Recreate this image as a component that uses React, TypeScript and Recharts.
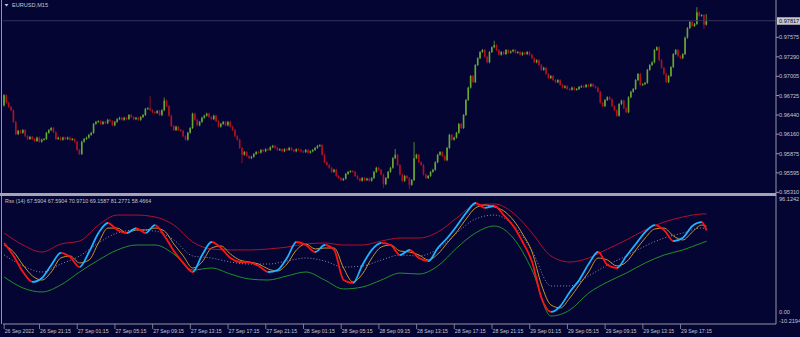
import { Bar, ComposedChart, Line, ReferenceLine, XAxis, YAxis } from "recharts";

// EURUSD M15 candles, 26 Sep 17:30 .. 29 Sep 20:00 (open of each bar = previous close)
const firstOpen = 0.9658;
const closes = [
  0.9673, 0.9662, 0.9656, 0.9651, 0.9634, 0.9616, 0.9621, 0.9618, 0.9622, 0.9613,
  0.9609, 0.9612, 0.9609, 0.9606, 0.9611, 0.9605, 0.9608, 0.9609, 0.9618, 0.9622,
  0.9625, 0.9619, 0.9609, 0.9611, 0.9608, 0.9611, 0.9609, 0.9611, 0.9608, 0.9609,
  0.9605, 0.9593, 0.9587, 0.9605, 0.9609, 0.9611, 0.9615, 0.9618, 0.9631, 0.9634,
  0.9635, 0.9631, 0.9634, 0.9632, 0.9637, 0.9635, 0.9629, 0.9634, 0.9638, 0.964,
  0.9637, 0.964, 0.9638, 0.9644, 0.9641, 0.9638, 0.964, 0.9637, 0.9641, 0.9644,
  0.9653, 0.9654, 0.9651, 0.9648, 0.9647, 0.965, 0.9644, 0.9651, 0.9665, 0.9657,
  0.9643, 0.9628, 0.9622, 0.9627, 0.9622, 0.9621, 0.9613, 0.9608, 0.9618, 0.9625,
  0.9646, 0.9637, 0.9629, 0.9634, 0.964, 0.9643, 0.9646, 0.9641, 0.9638, 0.9643,
  0.9635, 0.9627, 0.9631, 0.9634, 0.9629, 0.9634, 0.9627, 0.9622, 0.9613, 0.9608,
  0.9596, 0.9586, 0.959, 0.9584, 0.9581, 0.9583, 0.9587, 0.959, 0.9589, 0.9593,
  0.9591, 0.9594, 0.9593, 0.9597, 0.9599, 0.9596, 0.9593, 0.9594, 0.9591, 0.9594,
  0.9593, 0.9596, 0.9593, 0.9591, 0.9594, 0.9593, 0.9591, 0.959, 0.9593, 0.9589,
  0.9591, 0.9593, 0.9596, 0.9599, 0.96, 0.9586, 0.9575, 0.9571, 0.9567, 0.9561,
  0.9564, 0.9555, 0.9552, 0.9549, 0.9551, 0.9558, 0.9561, 0.9562, 0.9561, 0.9555,
  0.9551, 0.9548, 0.9552, 0.9549, 0.9551, 0.9548, 0.9552, 0.9561, 0.9567, 0.9564,
  0.9557, 0.9543, 0.9552, 0.9561, 0.9567, 0.9581, 0.9586, 0.9571, 0.9557, 0.9548,
  0.9555, 0.9552, 0.9542, 0.9549, 0.9581, 0.9586, 0.9575, 0.9571, 0.9557, 0.9552,
  0.9555, 0.9561, 0.9564, 0.9575, 0.9586, 0.959, 0.9584, 0.9578, 0.9596, 0.9615,
  0.9608, 0.9611, 0.9618, 0.9631, 0.9625, 0.9644, 0.9666, 0.9684, 0.9701, 0.9692,
  0.9717, 0.9727, 0.9736, 0.9739, 0.9729, 0.9721, 0.9736, 0.9743, 0.9746, 0.9739,
  0.9732, 0.9736, 0.9733, 0.9739, 0.9735, 0.9737, 0.9739, 0.9735, 0.9736, 0.9732,
  0.9735, 0.9733, 0.9736, 0.9732, 0.9727, 0.9721, 0.9724, 0.9717, 0.971, 0.9713,
  0.9704, 0.9698, 0.9701, 0.9695, 0.9692, 0.9695, 0.9688, 0.9684, 0.9686, 0.9682,
  0.9681, 0.9684, 0.9681, 0.9682, 0.9685, 0.9686, 0.9685, 0.9688, 0.9686, 0.9689,
  0.9686, 0.9684, 0.9678, 0.9662, 0.9657, 0.9666, 0.967, 0.9667, 0.9657, 0.9651,
  0.9643, 0.966, 0.9665, 0.9654, 0.9648, 0.967, 0.9678, 0.9682, 0.9695, 0.9704,
  0.9688, 0.9689, 0.9691, 0.971, 0.9717, 0.9721, 0.9739, 0.9743, 0.9724, 0.9713,
  0.9704, 0.9692, 0.9701, 0.9714, 0.9733, 0.9739, 0.973, 0.9727, 0.9733, 0.9757,
  0.9771, 0.978, 0.9774, 0.9777, 0.9794, 0.9789, 0.979, 0.9776, 0.97817,
];
// [bar, high, low] for the shadows that stick out past the body
const shadows: [number, number | null, number | null][] = [
  [62, 0.967, null],
  [68, 0.9668, null],
  [101, null, 0.9575],
  [161, null, 0.9539],
  [166, 0.9593, null],
  [172, null, 0.9537],
  [174, 0.9603, null],
  [208, 0.9751, null],
  [294, 0.98, null],
  [297, null, 0.9771],
  [298, 0.979, null],
];

const priceTicks = [0.9531, 0.95595, 0.95875, 0.9616, 0.9644, 0.96725, 0.97005, 0.9729, 0.97575];
const lastPrice = 0.97817;

// Rsx(14) panel, one reading every 4 bars (last one = last bar)
const rsx = [
  57.1, 46.3, 33.0, 24.7, 28.0, 38.8, 48.8, 45.4, 37.1, 49.6,
  65.4, 73.7, 67.9, 65.4, 69.5, 65.4, 72.0, 62.9, 50.4, 40.5,
  33.0, 47.1, 57.9, 52.9, 44.6, 41.3, 41.0, 38.0, 33.0, 34.6,
  44.6, 57.9, 55.4, 49.6, 55.4, 51.3, 26.3, 23.8, 38.8, 51.3,
  57.1, 55.4, 47.1, 51.3, 44.6, 42.1, 52.9, 61.2, 71.2, 82.0,
  90.3, 86.2, 87.8, 80.3, 71.2, 57.9, 41.3, 11.4, -0.2, 4.7,
  16.4, 26.3, 39.6, 49.6, 38.8, 36.3, 46.3, 56.2, 66.2, 72.0,
  67.9, 58.7, 61.5, 71.2, 74.5, 67.5904,
];
const signal = [
  55.4, 49.6, 38.8, 29.7, 26.3, 33.0, 44.6, 46.3, 40.5, 42.9,
  57.1, 69.5, 69.5, 65.4, 67.9, 67.9, 69.5, 67.0, 56.2, 46.3,
  36.3, 41.3, 52.9, 54.6, 47.9, 42.9, 41.3, 39.6, 35.5, 33.8,
  39.6, 51.3, 56.2, 52.1, 52.9, 52.9, 36.3, 24.7, 31.3, 44.6,
  53.7, 55.4, 50.4, 49.6, 47.1, 42.9, 47.9, 57.1, 66.2, 77.0,
  86.2, 88.6, 87.0, 83.7, 76.2, 64.5, 49.6, 22.2, 5.6, 3.1,
  11.4, 22.2, 33.0, 44.6, 42.9, 38.0, 41.3, 51.3, 61.2, 68.7,
  69.5, 62.9, 59.6, 66.2, 72.0, 70.971,
];
// bands, one reading every 8 bars (last one = last bar)
const upperBand = [
  65.4, 55.4, 49.6, 56.2, 58.7, 72.0, 80.3, 80.3, 78.7, 72.0,
  57.9, 52.1, 51.3, 51.3, 52.1, 53.7, 56.2, 57.1, 55.4, 55.4,
  58.7, 61.2, 61.2, 66.2, 77.8, 88.6, 89.5, 82.0, 65.4, 46.3,
  41.3, 44.6, 52.1, 59.6, 67.9, 74.5, 78.7, 81.2, 81.2771,
];
const midBand = [
  47.1, 38.0, 33.0, 39.6, 46.3, 57.1, 65.4, 67.9, 67.0, 59.6,
  46.3, 44.6, 41.3, 39.6, 39.6, 42.1, 44.6, 42.1, 37.1, 38.0,
  42.9, 47.1, 46.3, 52.1, 65.4, 77.0, 80.3, 72.0, 50.4, 21.4,
  21.4, 29.7, 38.8, 46.3, 54.6, 61.2, 65.4, 69.5, 69.1587,
];
const lowerBand = [
  28.8, 19.7, 16.4, 22.2, 33.0, 42.9, 51.3, 55.4, 55.4, 47.9,
  34.6, 36.3, 31.3, 27.2, 26.3, 29.7, 33.0, 26.3, 18.9, 20.5,
  26.3, 32.1, 31.3, 38.0, 52.9, 65.4, 71.2, 61.2, 34.6, -3.6,
  1.4, 15.5, 24.7, 32.1, 40.5, 47.1, 51.3, 57.1, 58.4664,
];
const rsxTicks = [96.1242, 0, -10.2194];

const timeBars = [0, 15, 31, 47, 63, 79, 95, 111, 127, 143, 159, 175, 191, 207, 223, 239, 255, 271, 287];
const timeLabels = [
  "26 Sep 2022", "26 Sep 21:15", "27 Sep 01:15", "27 Sep 05:15", "27 Sep 09:15",
  "27 Sep 13:15", "27 Sep 17:15", "27 Sep 21:15", "28 Sep 01:15", "28 Sep 05:15",
  "28 Sep 09:15", "28 Sep 13:15", "28 Sep 17:15", "28 Sep 21:15", "29 Sep 01:15",
  "29 Sep 05:15", "29 Sep 09:15", "29 Sep 13:15", "29 Sep 17:15",
];

const SLOTS = 328; // bars that fit in the window, incl. the empty shift on the right
const LAST = closes.length - 1;
const BG = "#050533";
const FRAME = "#9494a4";
const TEXT = "#c4c4cc";
const FONT = "'Liberation Sans', Arial, sans-serif";
const BULL = "#66a832";
const BEAR = "#b2101e";
const UP = "#1fb2ff";
const DOWN = "#ff1212";

const shadowMap = new Map(shadows.map((s) => [s[0], s]));
const candles = Array.from({ length: SLOTS }, (_, i) => {
  if (i > LAST) return { i };
  const open = i === 0 ? firstOpen : closes[i - 1];
  const close = closes[i];
  let high = Math.max(open, close);
  let low = Math.min(open, close);
  const s = shadowMap.get(i);
  if (s && s[1] != null) high = Math.max(high, s[1]);
  if (s && s[2] != null) low = Math.min(low, s[2]);
  return { i, open, close, range: [low, high] };
});

const rsxBar = (k: number) => (k === rsx.length - 1 ? LAST : k * 4);
const bandAt = (k: number) => (k === rsx.length - 1 ? upperBand.length - 1 : k % 2 === 0 ? k / 2 : -1);
const rows = rsx.map((v, k) => {
  const m = bandAt(k);
  return {
    i: rsxBar(k),
    rsx: v,
    signal: signal[k],
    upper: m >= 0 ? upperBand[m] : null,
    mid: m >= 0 ? midBand[m] : null,
    lower: m >= 0 ? lowerBand[m] : null,
  };
});

// blue while the Rsx rises, red while it falls
const rsxStops: { off: number; color: string }[] = [];
for (let k = 0; k < rsx.length - 1; k++) {
  const color = rsx[k + 1] >= rsx[k] ? UP : DOWN;
  rsxStops.push({ off: rsxBar(k) / LAST, color }, { off: rsxBar(k + 1) / LAST, color });
}

function Candle(props: any) {
  const { x, y, width, height, payload } = props;
  if (!payload || !payload.range) return null;
  const [low, high] = payload.range;
  const top = Math.min(y, y + height);
  const bottom = Math.max(y, y + height);
  const span = high - low;
  const toY = (v: number) => (span > 0 ? top + ((high - v) / span) * (bottom - top) : top);
  const color = payload.close >= payload.open ? BULL : BEAR;
  const cx = x + width / 2;
  const bTop = toY(Math.max(payload.open, payload.close));
  const bBot = toY(Math.min(payload.open, payload.close));
  return (
    <g>
      <line x1={cx} x2={cx} y1={top - 1} y2={bottom + 1} stroke={color} strokeWidth={0.8} />
      <rect x={cx - 0.8} y={bTop} width={1.6} height={Math.max(1, bBot - bTop)} fill={color} />
    </g>
  );
}

function PriceTick(props: any) {
  const { x, y, payload } = props;
  return (
    <text x={x} y={y} dy={2} fontSize={5.6} fontFamily={FONT} fill={TEXT}>
      {Number(payload.value).toFixed(5)}
    </text>
  );
}

function LastPriceLabel(props: any) {
  const { viewBox } = props;
  if (!viewBox) return null;
  const x = viewBox.x + viewBox.width + 1;
  return (
    <g>
      <rect x={x} y={viewBox.y - 3.5} width={23} height={7.5} fill="#c8c8cc" />
      <text x={x + 2} y={viewBox.y + 2.2} fontSize={5.6} fontFamily={FONT} fill={BG}>
        {lastPrice.toFixed(5)}
      </text>
    </g>
  );
}

function RsxTick(props: any) {
  const { x, y, payload } = props;
  const v = Number(payload.value);
  const text = v === 0 ? "0.00" : v.toFixed(4);
  const dy = v > 90 ? 4.5 : v < -5 ? -1 : 2.5;
  return (
    <text x={x} y={y} dy={dy} fontSize={5.6} fontFamily={FONT} fill={TEXT}>
      {text}
    </text>
  );
}

function TimeTick(props: any) {
  const { x, payload } = props;
  const label = timeLabels[timeBars.indexOf(payload.value)];
  return (
    <g>
      <line x1={x} x2={x} y1={128} y2={133} stroke={FRAME} strokeWidth={0.8} />
      <text x={x + 0.5} y={136.5} fontSize={5.2} fontFamily={FONT} fill={TEXT}>
        {label}
      </text>
    </g>
  );
}

export default function App() {
  return (
    <div
      style={{
        position: "absolute",
        left: 0,
        top: 0,
        width: 800,
        height: 337,
        background: BG,
        overflow: "hidden",
      }}
    >
      <div style={{ position: "absolute", left: 0, top: 196 }}>
        <ComposedChart width={800} height={141} data={rows} margin={{ top: 0, right: 0, bottom: 0, left: 3 }}>
          <defs>
            <linearGradient id="rsxStroke" x1="0" y1="0" x2="1" y2="0">
              {rsxStops.map((s, n) => (
                <stop key={n} offset={s.off} stopColor={s.color} />
              ))}
            </linearGradient>
          </defs>
          <XAxis
            type="number"
            dataKey="i"
            domain={[-0.5, SLOTS - 0.5]}
            allowDataOverflow
            ticks={timeBars}
            interval={0}
            height={13}
            axisLine={{ stroke: FRAME }}
            tickLine={false}
            tick={<TimeTick />}
          />
          <YAxis
            orientation="right"
            width={24}
            domain={[-10.2194, 96.1242]}
            allowDataOverflow
            ticks={rsxTicks}
            interval={0}
            axisLine={{ stroke: FRAME }}
            tickLine={false}
            tickMargin={0}
            tickSize={3}
            tick={<RsxTick />}
          />
          <Line type="monotone" dataKey="upper" stroke="#b0102c" strokeWidth={1} dot={false} connectNulls isAnimationActive={false} />
          <Line type="monotone" dataKey="lower" stroke="#1f902a" strokeWidth={1} dot={false} connectNulls isAnimationActive={false} />
          <Line type="monotone" dataKey="mid" stroke="#8a8ab8" strokeWidth={1} strokeDasharray="1 2" dot={false} connectNulls isAnimationActive={false} />
          <Line type="monotone" dataKey="signal" stroke="#c8962a" strokeWidth={1} dot={false} isAnimationActive={false} />
          <Line type="monotone" dataKey="rsx" stroke="url(#rsxStroke)" strokeWidth={1.8} dot={false} isAnimationActive={false} />
        </ComposedChart>
      </div>
      <div style={{ position: "absolute", left: 0, top: 0 }}>
        <ComposedChart
          width={800}
          height={197}
          data={candles}
          margin={{ top: 0, right: 0, bottom: 4, left: 3 }}
          barCategoryGap={0}
          barGap={0}
        >
          <XAxis dataKey="i" type="category" hide />
          <YAxis
            orientation="right"
            width={24}
            domain={[0.95301, 0.9812]}
            allowDataOverflow
            ticks={priceTicks}
            interval={0}
            axisLine={{ stroke: FRAME }}
            tickLine={{ stroke: FRAME }}
            tickSize={3}
            tickMargin={0}
            tick={<PriceTick />}
          />
          <ReferenceLine y={lastPrice} stroke="#34345c" label={<LastPriceLabel />} />
          <Bar dataKey="range" shape={<Candle />} isAnimationActive={false} />
        </ComposedChart>
      </div>
      <svg width={800} height={337} style={{ position: "absolute", left: 0, top: 0, pointerEvents: "none" }}>
        <line x1={1.5} x2={1.5} y1={0} y2={324} stroke={FRAME} />
        <rect x={0} y={193} width={776.5} height={3} fill="#a4a4b2" />
        <path d="M4.5 4 L8.5 4 L6.5 6.5 Z" fill={TEXT} />
        <text x={12} y={7} fontSize={5.6} fontFamily={FONT} fill={TEXT}>
          EURUSD,M15
        </text>
        <text x={5} y={203} fontSize={5.4} fontFamily={FONT} fill={TEXT}>
          Rsx (14) 67.5904 67.5904 70.9710 69.1587 81.2771 58.4664
        </text>
      </svg>
    </div>
  );
}
